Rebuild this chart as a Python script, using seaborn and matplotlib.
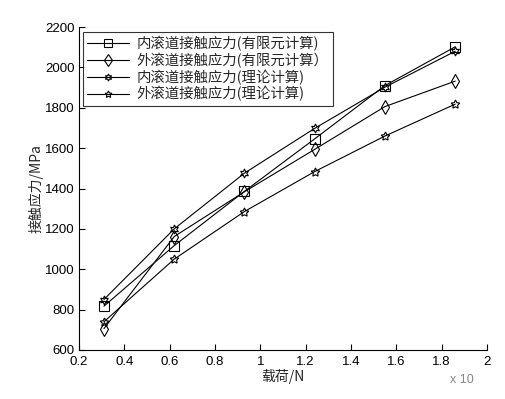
import matplotlib
matplotlib.use("Agg")
import matplotlib.pyplot as plt
import seaborn as sns
import pandas as pd

loads = [0.31, 0.62, 0.93, 1.24, 1.55, 1.86]
inner_fem = [817, 1117, 1386, 1646, 1910, 2102]
outer_fem = [706, 1162, 1384, 1594, 1806, 1932]
inner_theory = [850, 1200, 1476, 1698, 1902, 2080]
outer_theory = [740, 1050, 1286, 1484, 1660, 1818]
series_names = ["内滚道接触应力(有限元计算)", "外滚道接触应力(有限元计算）",
                "内滚道接触应力(理论计算)", "外滚道接触应力(理论计算)"]
x_ticks = [0.2, 0.4, 0.6, 0.8, 1, 1.2, 1.4, 1.6, 1.8, 2]
y_ticks = [600, 800, 1000, 1200, 1400, 1600, 1800, 2000, 2200]

sns.set_style("ticks")
plt.rcParams['font.family'] = ['Liberation Sans', 'Noto Sans CJK SC']
plt.rcParams['xtick.direction'] = 'in'
plt.rcParams['ytick.direction'] = 'in'

fig = plt.figure(figsize=(5.05, 3.99), dpi=100)
ax = fig.add_axes([79/505, 1-350/399, (487-79)/505, (350-27)/399])

markers = ['s', 'd', (6, 1, 0), (5, 1, 0)]
msizes = [7.5, 7.5, 6.5, 6.5]
all_vals = [inner_fem, outer_fem, inner_theory, outer_theory]
for name, vals, m, ms in zip(series_names, all_vals, markers, msizes):
    df = pd.DataFrame({"x": loads, "y": vals})
    sns.lineplot(data=df, x="x", y="y", ax=ax, color='black', lw=0.8,
                 marker=m, markersize=ms, markerfacecolor='none',
                 markeredgecolor='black', markeredgewidth=0.8, label=name)

ax.set_xlim(0.2, 2)
ax.set_ylim(600, 2200)
ax.set_xticks(x_ticks)
ax.set_xticklabels([f"{t:g}" for t in x_ticks])
ax.set_yticks(y_ticks)
ax.tick_params(labelsize=9.5, length=4, width=0.8, colors='black')
ax.tick_params(axis='x', pad=4)
ax.tick_params(axis='y', pad=3)
sns.despine(ax=ax)
for s in ['left', 'bottom']:
    ax.spines[s].set_linewidth(0.8)
    ax.spines[s].set_color('black')

ax.set_xlabel("载荷/N", fontsize=10, labelpad=1,
              family=['Noto Sans CJK SC', 'Liberation Sans'])
ax.set_ylabel("接触应力/MPa", fontsize=10, labelpad=1,
              family=['Noto Sans CJK SC', 'Liberation Sans'])

leg = ax.legend(loc='upper left', bbox_to_anchor=(0.01, 0.985),
                frameon=True, fancybox=False, edgecolor='black',
                borderpad=0.3, labelspacing=0.1, handlelength=2.9,
                handletextpad=0.5, borderaxespad=0, markerscale=0.8,
                prop={'family': ['Noto Sans CJK SC', 'Liberation Sans'], 'size': 10.4})
leg.get_frame().set_linewidth(0.8)

fig.text(450/505, 1-383/399, "x 10", fontsize=9, color='#888888')

fig.savefig("out.png", dpi=100)
